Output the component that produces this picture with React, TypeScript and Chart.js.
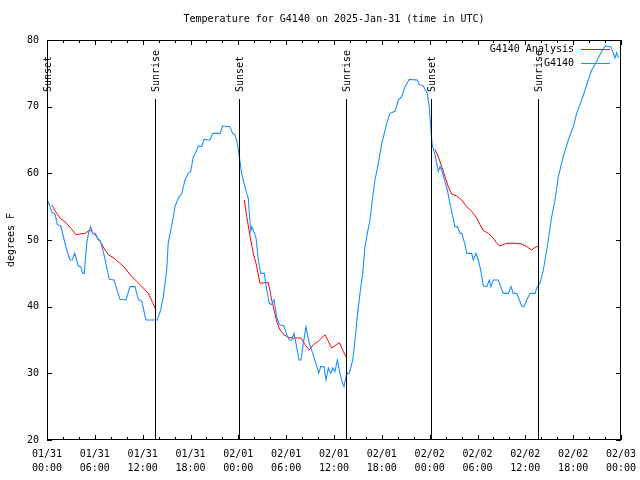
import { useEffect, useRef } from "react";
import { Chart, registerables } from "chart.js";

Chart.register(...registerables);

const TITLE = "Temperature for G4140 on 2025-Jan-31 (time in UTC)";
const Y_LABEL = "degrees F";
const SERIES_ANALYSIS = "G4140 Analysis";
const SERIES_OBS = "G4140";

const X_TICK_DATES = ["01/31", "01/31", "01/31", "01/31", "02/01", "02/01", "02/01", "02/01", "02/02", "02/02", "02/02", "02/02", "02/03"];
const X_TICK_TIMES = ["00:00", "06:00", "12:00", "18:00", "00:00", "06:00", "12:00", "18:00", "00:00", "06:00", "12:00", "18:00", "00:00"];

// hours since 01/31 00:00 UTC
const obsHours = [
  0.04, 0.29, 0.63, 1.0, 1.29, 1.72, 2.47, 2.89, 3.17, 3.47, 3.93, 4.23, 4.48, 4.68, 4.98, 5.23, 5.48, 5.73, 6.11, 6.44,
  6.65, 7.15, 7.81, 8.4, 9.16, 9.91, 10.41, 11.04, 11.45, 11.88, 12.42, 13.84, 14.26, 14.59, 15.02, 15.2, 15.77, 16.06, 16.47, 16.9,
  17.31, 17.72, 18.03, 18.35, 18.65, 18.98, 19.41, 19.69, 20.45, 20.79, 21.7, 22.04, 22.96, 23.29, 23.58, 23.87, 24.12, 24.42, 24.71, 25.05,
  25.25, 25.38, 25.55, 25.68, 25.88, 26.22, 26.51, 26.81, 27.26, 27.56, 27.89, 28.19, 28.47, 28.81, 29.14, 29.73, 30.07, 30.39, 30.69, 30.98,
  31.32, 31.61, 31.86, 32.15, 32.49, 32.65, 32.9, 33.33, 33.74, 34.08, 34.33, 34.75, 35.0, 35.29, 35.59, 35.84, 36.13, 36.42, 36.75, 37.09,
  37.26, 37.51, 37.67, 37.92, 38.35, 38.64, 38.92, 39.26, 39.6, 39.89, 40.18, 40.52, 40.81, 41.14, 41.56, 41.99, 42.27, 42.61, 43.03, 43.65,
  44.07, 44.49, 44.91, 45.45, 46.45, 46.7, 47.2, 47.7, 47.95, 48.13, 48.29, 48.38, 48.67, 49.08, 49.3, 49.51, 49.8, 50.21, 50.55, 50.89,
  51.18, 51.47, 51.81, 52.02, 52.43, 52.65, 53.27, 53.47, 53.81, 54.1, 54.4, 54.73, 55.16, 55.48, 55.69, 55.98, 56.61, 56.91, 57.24, 57.87,
  58.2, 58.49, 58.92, 59.25, 59.55, 59.83, 60.17, 60.59, 61.21, 61.5, 61.84, 62.26, 62.47, 62.88, 63.31, 63.72, 64.14, 64.76, 65.39, 66.02,
  66.44, 67.07, 67.49, 67.9, 68.33, 68.95, 69.58, 69.99, 70.71, 71.04, 71.25, 71.46, 71.66,
];
const obsTemps = [
  56, 55.3, 54.1, 53.9, 52.3, 52.1, 48.5, 47, 47, 48, 46.1, 46, 45, 45, 49.5, 51.1, 52, 51, 50.9, 50,
  50, 47.8, 44.1, 44, 41.1, 41, 43, 43, 41.1, 40.8, 38, 38, 39.5, 41.5, 45.5, 49.5, 53, 55, 56.3, 57,
  59, 60, 60.3, 62.5, 63.1, 64.1, 64, 65.1, 65, 66, 66, 67.1, 67, 66, 65.8, 64.5, 62.5, 60, 58.5, 57,
  56.3, 54, 51.3, 52, 51.5, 50.3, 47, 45, 45, 42.5, 40.5, 40.3, 41, 38.5, 37.3, 37.1, 35.8, 35, 35, 36,
  34, 32, 32, 34.5, 37, 36, 34.5, 33, 31.5, 30, 31, 31, 29, 30.8, 30, 30.8, 30.3, 32, 30, 28.5,
  28, 29.5, 30, 30, 32, 35, 38.5, 42, 45, 49, 51, 53, 56, 59, 61.5, 64.5, 65.8, 67.5, 69, 69.3,
  71, 71.5, 73, 74.1, 74, 73.3, 73.1, 72, 70, 67, 64.5, 64, 62.8, 60.3, 61, 60.5, 59.3, 57.5, 55.5, 53.5,
  52, 52, 51, 51, 49.3, 48, 48, 47, 48, 47, 45.5, 43.1, 43, 44, 43, 44, 44, 43, 42, 42,
  43, 42, 42, 41, 40.1, 40, 41, 42, 42, 43, 43.5, 45.5, 47, 50, 53.5, 56, 59.5, 62.5, 65, 67,
  69, 71, 72.5, 74, 75.5, 76.8, 78.3, 79.1, 79, 78, 77.3, 78.1, 77.3,
];

const anaHours = [
  0.59, 1.0, 1.63, 2.47, 3.1, 3.64, 4.14, 4.77, 5.39, 6.02, 6.65, 7.28, 7.69, 8.4, 9.16, 9.78, 10.41, 11.25, 12.08, 12.71,
  13.26, 13.67, 20,
  24.75, 25.05, 25.34, 25.55, 25.88, 26.22, 26.72, 27.35, 27.76, 28.19, 28.81, 29.23, 29.73, 30.27, 30.9, 31.86, 32.36, 32.9, 33.4, 34.03,
  34.87, 35.71, 36.67, 37.17, 37.59, 44,
  48.67, 49.08, 49.51, 49.92, 50.34, 50.76, 51.39, 52.02, 52.65, 53.27, 53.9, 54.31, 54.73, 55.36, 55.98, 56.41, 56.82, 57.65, 58.92, 59.55,
  60.17, 60.8, 61.21, 61.72,
];
const anaTemps: (number | null)[] = [
  55.3, 54.4, 53.3, 52.5, 51.6, 50.8, 50.9, 51, 51.5, 50.8, 49.8, 48.5, 47.8, 47.3, 46.5, 45.8, 44.8, 43.8, 42.8, 42,
  40.6, 39.5, null,
  56, 53.5, 51.5, 50, 48, 46.5, 43.5, 43.6, 43.6, 41, 37.8, 36.5, 35.8, 35.4, 35.3, 35.3, 34.3, 33.5, 34.3, 34.8,
  35.8, 33.8, 34.6, 33.3, 32.3, null,
  63.6, 62.5, 61, 59.5, 58, 56.9, 56.6, 56, 55, 54.3, 53.3, 52.3, 51.4, 51, 50.3, 49.5, 49.1, 49.5, 49.5, 49.4,
  49, 48.5, 48.9, 49.1,
];

const sunHours = [0.06, 13.58, 24.12, 37.55, 48.17, 61.63];
const sunLabels = ["Sunset", "Sunrise", "Sunset", "Sunrise", "Sunset", "Sunrise"];

const RED = "#ff0000";
const BLUE = "#1e90ff";
const FONT = "'DejaVu Sans Mono', 'Liberation Mono', monospace";

const overlayPlugin = {
  id: "overlay",
  afterDatasetsDraw(chart: any) {
    const { ctx, chartArea, scales } = chart;
    const { left, right, top, bottom } = chartArea;
    const xs = scales.x;
    const ys = scales.y;
    ctx.save();
    ctx.strokeStyle = "#000";
    ctx.lineWidth = 1;

    // sun lines + labels
    ctx.font = `10px ${FONT}`;
    ctx.fillStyle = "#000";
    sunHours.forEach((h, i) => {
      const px = Math.round(xs.getPixelForValue(h)) + 0.5;
      ctx.beginPath();
      ctx.moveTo(px, top + 59);
      ctx.lineTo(px, bottom);
      ctx.stroke();
      ctx.save();
      ctx.translate(px + 1, top + 52);
      ctx.rotate(-Math.PI / 2);
      ctx.textAlign = "left";
      ctx.textBaseline = "middle";
      ctx.fillText(sunLabels[i], 0, 0);
      ctx.restore();
    });

    // frame
    ctx.strokeRect(Math.round(left) + 0.5, Math.round(top) + 0.5, Math.round(right - left) - 1, Math.round(bottom - top) - 1);

    // ticks (inward, mirrored)
    ctx.beginPath();
    for (let h = 0; h <= 72; h += 2) {
      const px = Math.round(xs.getPixelForValue(h)) + 0.5;
      const len = h % 6 === 0 ? 5 : 3;
      ctx.moveTo(px, bottom);
      ctx.lineTo(px, bottom - len);
      ctx.moveTo(px, top);
      ctx.lineTo(px, top + len);
    }
    for (let v = 20; v <= 80; v += 10) {
      const py = Math.round(ys.getPixelForValue(v)) + 0.5;
      ctx.moveTo(left, py);
      ctx.lineTo(left + 5, py);
      ctx.moveTo(right, py);
      ctx.lineTo(right - 5, py);
    }
    ctx.stroke();

    // legend
    const items = [
      { label: SERIES_ANALYSIS, color: RED },
      { label: SERIES_OBS, color: BLUE },
    ];
    ctx.textAlign = "right";
    ctx.textBaseline = "middle";
    items.forEach((it, i) => {
      const ly = top + 9.5 + i * 14;
      ctx.fillStyle = "#000";
      ctx.fillText(it.label, right - 47, ly);
      ctx.strokeStyle = it.color;
      ctx.beginPath();
      ctx.moveTo(right - 40, ly);
      ctx.lineTo(right - 11, ly);
      ctx.stroke();
    });
    ctx.restore();
  },
};

export default function App() {
  const ref = useRef<HTMLCanvasElement | null>(null);

  useEffect(() => {
    if (!ref.current) return;
    Chart.defaults.font.family = FONT;
    Chart.defaults.font.size = 10;
    Chart.defaults.color = "#000";

    const obsData = obsHours.map((h, i) => ({ x: h, y: obsTemps[i] }));
    const anaData = anaHours.map((h, i) => ({ x: h, y: anaTemps[i] }));

    const chart = new Chart(ref.current, {
      type: "line",
      data: {
        datasets: [
          {
            label: SERIES_ANALYSIS,
            data: anaData as any,
            borderColor: RED,
            backgroundColor: RED,
            borderWidth: 1,
            pointRadius: 0,
            tension: 0,
            spanGaps: false,
            order: 1,
          },
          {
            label: SERIES_OBS,
            data: obsData,
            borderColor: BLUE,
            backgroundColor: BLUE,
            borderWidth: 1.1,
            pointRadius: 0,
            tension: 0,
            order: 0,
          },
        ],
      },
      options: {
        animation: false,
        responsive: false,
        devicePixelRatio: 1,
        layout: { padding: { left: 0, right: 19, top: 0, bottom: 0 } },
        plugins: {
          legend: { display: false },
          tooltip: { enabled: false },
          title: {
            display: true,
            text: TITLE,
            fullSize: false,
            color: "#000",
            font: { family: FONT, size: 10, weight: "normal", lineHeight: 1.2 },
            padding: { top: 13, bottom: 15 },
          },
        },
        scales: {
          x: {
            type: "linear",
            min: 0,
            max: 72,
            afterFit: (s: any) => {
              s.height = 40;
              s.paddingLeft = 0;
              s.paddingRight = 0;
            },
            grid: { display: false, drawTicks: false },
            border: { display: false },
            ticks: {
              stepSize: 6,
              autoSkip: false,
              maxRotation: 0,
              padding: 7,
              font: { family: FONT, size: 10, lineHeight: 1.4 },
              callback: (v: any) => {
                const i = Math.round(Number(v) / 6);
                return [X_TICK_DATES[i], X_TICK_TIMES[i]];
              },
            },
          },
          y: {
            type: "linear",
            min: 20,
            max: 80,
            afterFit: (s: any) => {
              s.width = 47;
              s.paddingTop = 0;
              s.paddingBottom = 0;
            },
            grid: { display: false, drawTicks: false },
            border: { display: false },
            ticks: { stepSize: 10, padding: 8, font: { family: FONT, size: 10 } },
            title: {
              display: true,
              text: Y_LABEL,
              font: { family: FONT, size: 10, lineHeight: 1.2 },
              padding: { top: 5, bottom: 0 },
            },
          },
        },
      },
      plugins: [overlayPlugin],
    });
    return () => chart.destroy();
  }, []);

  return (
    <div style={{ position: "fixed", left: 0, top: 0, width: 640, height: 480, background: "#fff" }}>
      <canvas ref={ref} width={640} height={480} style={{ display: "block", width: 640, height: 480 }} />
    </div>
  );
}
